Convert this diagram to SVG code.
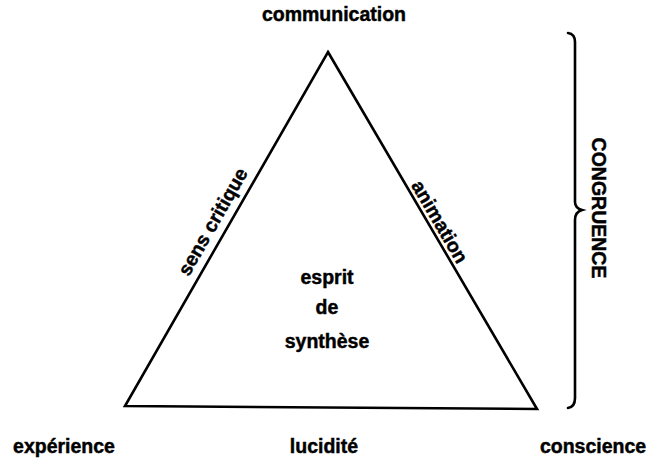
<svg xmlns="http://www.w3.org/2000/svg" width="662" height="460" viewBox="0 0 662 460">
<style>
text { font-family: "Liberation Sans", Arial, sans-serif; font-weight: bold; font-size: 19.5px; fill: #000; stroke: #000; stroke-width: 0.45; }
.c { text-anchor: middle; }
.edge { stroke: #000; stroke-width: 2.6; fill: none; stroke-linecap: round; stroke-linejoin: miter; }
</style>
<rect width="662" height="460" fill="#fff"/>
<g id="connectors">
  <polygon class="edge" points="328,52 537,409 125,406"/>
  <path class="edge" d="M568,33 Q575,34 575,42 L575,202 Q575,208 582,210 Q575,212 575,220 L575,398 Q575,407 568,408"/>
</g>
<g id="edge-labels">
  <text class="c" transform="translate(218.5,225) rotate(-60.3)">sens critique</text>
  <text class="c" transform="translate(434,225) rotate(59.8)">animation</text>
</g>
<g id="node-communication"><text class="c" x="334" y="21">communication</text></g>
<g id="node-experience"><text class="c" x="64" y="453">expérience</text></g>
<g id="node-lucidite"><text class="c" x="324" y="453">lucidité</text></g>
<g id="node-conscience"><text class="c" x="593" y="453">conscience</text></g>
<g id="node-center">
  <text class="c" x="327" y="283.5">esprit</text>
  <text class="c" x="327" y="314">de</text>
  <text class="c" x="327" y="348">synthèse</text>
</g>
<g id="node-congruence"><text class="c" transform="translate(592,208) rotate(90)">CONGRUENCE</text></g>
</svg>
